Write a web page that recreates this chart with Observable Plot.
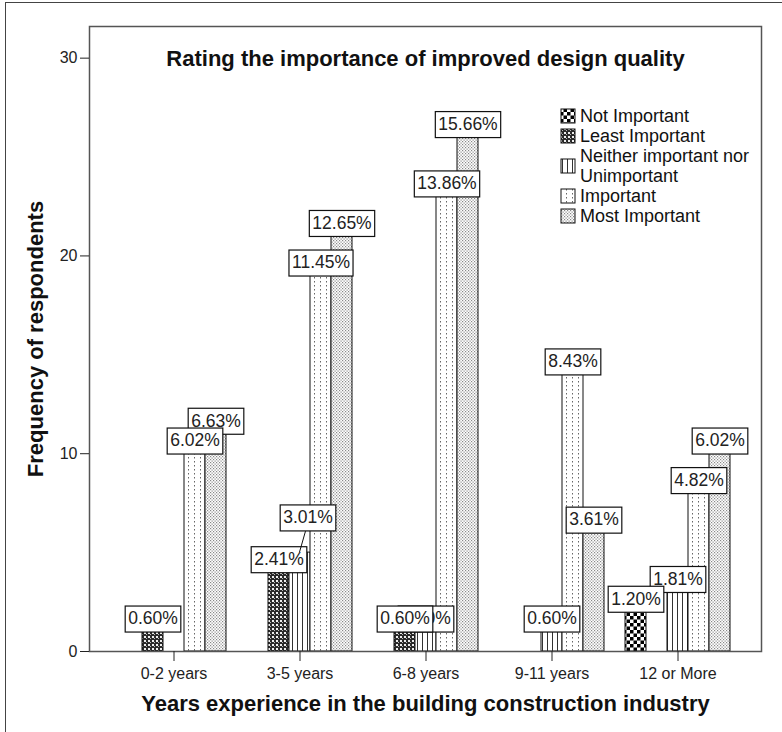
<!DOCTYPE html>
<html><head><meta charset="utf-8">
<script src="https://cdn.jsdelivr.net/npm/d3@7"></script>
<script src="https://cdn.jsdelivr.net/npm/@observablehq/plot@0.6"></script>
<style>
body{margin:0;background:#fff;}
#wrap{position:relative;width:782px;height:732px;overflow:hidden;background:#fff;}
#border{position:absolute;left:5px;top:2px;width:900px;height:900px;border-left:1.5px solid #444;border-top:1.5px solid #444;}
#wrap svg{position:absolute;left:0;top:0;}
</style></head><body><div id="wrap"><div id="border"></div></div>
<script>
// ---------- data ----------
const groups = ["0-2 years", "3-5 years", "6-8 years", "9-11 years", "12 or More"];
const categories = ["Not Important", "Least Important", "Neither important nor Unimportant", "Important", "Most Important"];
const notImportant   = [0, 0, 0, 0, 2];
const leastImportant = [1, 4, 1, 0, 0];
const neitherImp     = [0, 5, 1, 1, 3];
const importantV     = [10, 19, 23, 14, 8];
const mostImportant  = [11, 21, 26, 6, 10];
const yTicks = [0, 10, 20, 30];
const chartTitle = "Rating the importance of improved design quality";
const xTitle = "Years experience in the building construction industry";
const yTitle = "Frequency of respondents";

const series = [notImportant, leastImportant, neitherImp, importantV, mostImportant];
const rows = [];
groups.forEach((g, gi) => categories.forEach((c, ci) => rows.push({group: g, category: c, ci, count: series[ci][gi]})));
const total = d3.sum(rows, d => d.count);
rows.forEach(d => d.label = (d.count / total * 100).toFixed(2) + "%");

// ---------- layout ----------
const FONT = 'Arial, "Liberation Sans", sans-serif';
const W = 782, H = 732, mL = 89, mR = 21, mT = 26, mB = 81;
const isLifted = d => d.group === "3-5 years" && d.ci === 2; // label displaced with a leader line
const LIFT = 22, SHIFT = 8;
const LABEL_FS = 17.5;

function build(bw) {
  const marks = [];
  categories.forEach((c, ci) => {
    marks.push(Plot.barY(rows.filter(d => d.ci === ci && d.count > 0), {
      x: "group", y: "count", fill: `url(#pat${ci})`, stroke: "#111", strokeWidth: 1,
      insetLeft: ci * bw / 5, insetRight: (4 - ci) * bw / 5
    }));
  });
  marks.push(Plot.frame({stroke: "#555", strokeWidth: 1.5}));
  marks.push(Plot.axisY({ticks: yTicks, tickSize: 9, tickPadding: 3, fontSize: 16, label: null, color: "#222"}));
  marks.push(Plot.axisX({tickSize: 10, tickPadding: 6, fontSize: 16, label: null, color: "#222"}));
  for (let ci = 4; ci >= 0; ci--) {
    const base = rows.filter(d => d.ci === ci && d.count > 0);
    marks.push(Plot.text(base.filter(d => !isLifted(d)), {
      x: "group", y: "count", text: "label", dx: (ci - 2) * bw / 5, dy: -13,
      fontSize: LABEL_FS, fill: "#222", ariaDescription: "pct-label"
    }));
    const lifted = base.filter(isLifted);
    if (lifted.length) marks.push(Plot.text(lifted, {
      x: "group", y: "count", text: "label", dx: (ci - 2) * bw / 5 + SHIFT, dy: -13 - LIFT,
      fontSize: LABEL_FS, fill: "#222", ariaDescription: "pct-label"
    }));
  }
  marks.push(Plot.text([chartTitle], {frameAnchor: "top", dy: 24, fontSize: 22, fontWeight: "bold", fill: "#111", textAnchor: "middle"}));
  marks.push(Plot.text([xTitle], {frameAnchor: "bottom", dy: 59, fontSize: 22, fontWeight: "bold", fill: "#111", textAnchor: "middle"}));
  marks.push(Plot.text([yTitle], {frameAnchor: "left", dx: -54, rotate: -90, fontSize: 22, fontWeight: "bold", fill: "#111", textAnchor: "middle"}));
  return Plot.plot({
    width: W, height: H, marginLeft: mL, marginRight: mR, marginTop: mT, marginBottom: mB,
    style: {fontFamily: FONT, background: "transparent", color: "#222"},
    x: {domain: groups, paddingInner: 1 / 6, paddingOuter: 0.25, label: null, axis: null},
    y: {domain: [0, 31.6], label: null, axis: null},
    marks
  });
}

const probe = build(0);
const bw = probe.scale("x").bandwidth;
const chart = build(bw);
document.getElementById("wrap").append(chart);
const svg = d3.select(chart);
const xs = chart.scale("x"), ys = chart.scale("y");

// ---------- patterns ----------
const defs = svg.insert("defs", ":first-child");
function pat(id, w, h, draw) {
  const p = defs.append("pattern").attr("id", id).attr("patternUnits", "userSpaceOnUse").attr("width", w).attr("height", h);
  draw(p);
}
pat("pat0", 7, 7, p => { // checkerboard
  p.append("rect").attr("width", 7).attr("height", 7).attr("fill", "#fff");
  p.append("rect").attr("width", 3.5).attr("height", 3.5).attr("fill", "#000");
  p.append("rect").attr("x", 3.5).attr("y", 3.5).attr("width", 3.5).attr("height", 3.5).attr("fill", "#000");
});
pat("pat1", 4, 4, p => { // dense dark with white dots
  p.append("rect").attr("width", 4).attr("height", 4).attr("fill", "#2a2a2a");
  p.append("rect").attr("x", 0).attr("y", 0).attr("width", 2).attr("height", 2).attr("fill", "#eee");
  p.append("rect").attr("x", 2).attr("y", 2).attr("width", 1).attr("height", 1).attr("fill", "#bbb");
});
pat("pat2", 5, 5, p => { // vertical lines
  p.append("rect").attr("width", 5).attr("height", 5).attr("fill", "#fff");
  p.append("rect").attr("x", 2).attr("width", 1).attr("height", 5).attr("fill", "#333");
});
pat("pat3", 6, 4, p => { // dotted columns
  p.append("rect").attr("width", 6).attr("height", 4).attr("fill", "#fff");
  p.append("rect").attr("x", 2).attr("y", 1).attr("width", 1).attr("height", 1.5).attr("fill", "#666");
});
pat("pat4", 3, 3, p => { // fine stipple
  p.append("rect").attr("width", 3).attr("height", 3).attr("fill", "#fff");
  p.append("rect").attr("x", 0).attr("y", 0).attr("width", 1.2).attr("height", 1.2).attr("fill", "#888");
  p.append("rect").attr("x", 1.5).attr("y", 1.5).attr("width", 1.2).attr("height", 1.2).attr("fill", "#888");
});

// ---------- label boxes ----------
svg.selectAll('g[aria-description="pct-label"] text').each(function () {
  const b = this.getBBox();
  const ay = parseFloat(this.getAttribute("y") || 0);
  const r = document.createElementNS("http://www.w3.org/2000/svg", "rect");
  r.setAttribute("x", b.x - 3);
  r.setAttribute("y", ay - 13);
  r.setAttribute("width", b.width + 6);
  r.setAttribute("height", 26);
  r.setAttribute("fill", "#fff");
  r.setAttribute("stroke", "#111");
  r.setAttribute("stroke-width", 1.2);
  const t = this.getAttribute("transform");
  if (t) r.setAttribute("transform", t);
  this.parentNode.insertBefore(r, this);
});

// ---------- leader line for displaced label ----------
rows.filter(d => isLifted(d) && d.count > 0).forEach(d => {
  const cx = xs.apply(d.group) + (d.ci + 0.5) * bw / 5;
  const cy = ys.apply(d.count);
  svg.append("line").attr("x1", cx).attr("y1", cy).attr("x2", cx + SHIFT - 2).attr("y2", cy - LIFT + 1)
    .attr("stroke", "#111").attr("stroke-width", 1);
});

// ---------- legend ----------
const lg = svg.append("g").attr("font-family", FONT).attr("font-size", 18).attr("fill", "#111").attr("text-anchor", "start");
const lx = 561, lineH = 20;
let ly = 116;
categories.forEach((c, ci) => {
  const words = c.split(" ");
  const lines = [];
  let cur = "";
  words.forEach(w => { const n = cur ? cur + " " + w : w; if (n.length > 22) { lines.push(cur); cur = w; } else cur = n; });
  lines.push(cur);
  const mid = ly + (lines.length - 1) * lineH / 2;
  lg.append("rect").attr("x", lx).attr("y", mid - 7).attr("width", 14).attr("height", 14)
    .attr("fill", `url(#pat${ci})`).attr("stroke", "#111").attr("stroke-width", 1);
  lines.forEach((t, i) => lg.append("text").attr("x", lx + 19).attr("y", ly + i * lineH).attr("dy", "0.35em").text(t));
  ly += lines.length * lineH;
});
</script>
</body></html>
